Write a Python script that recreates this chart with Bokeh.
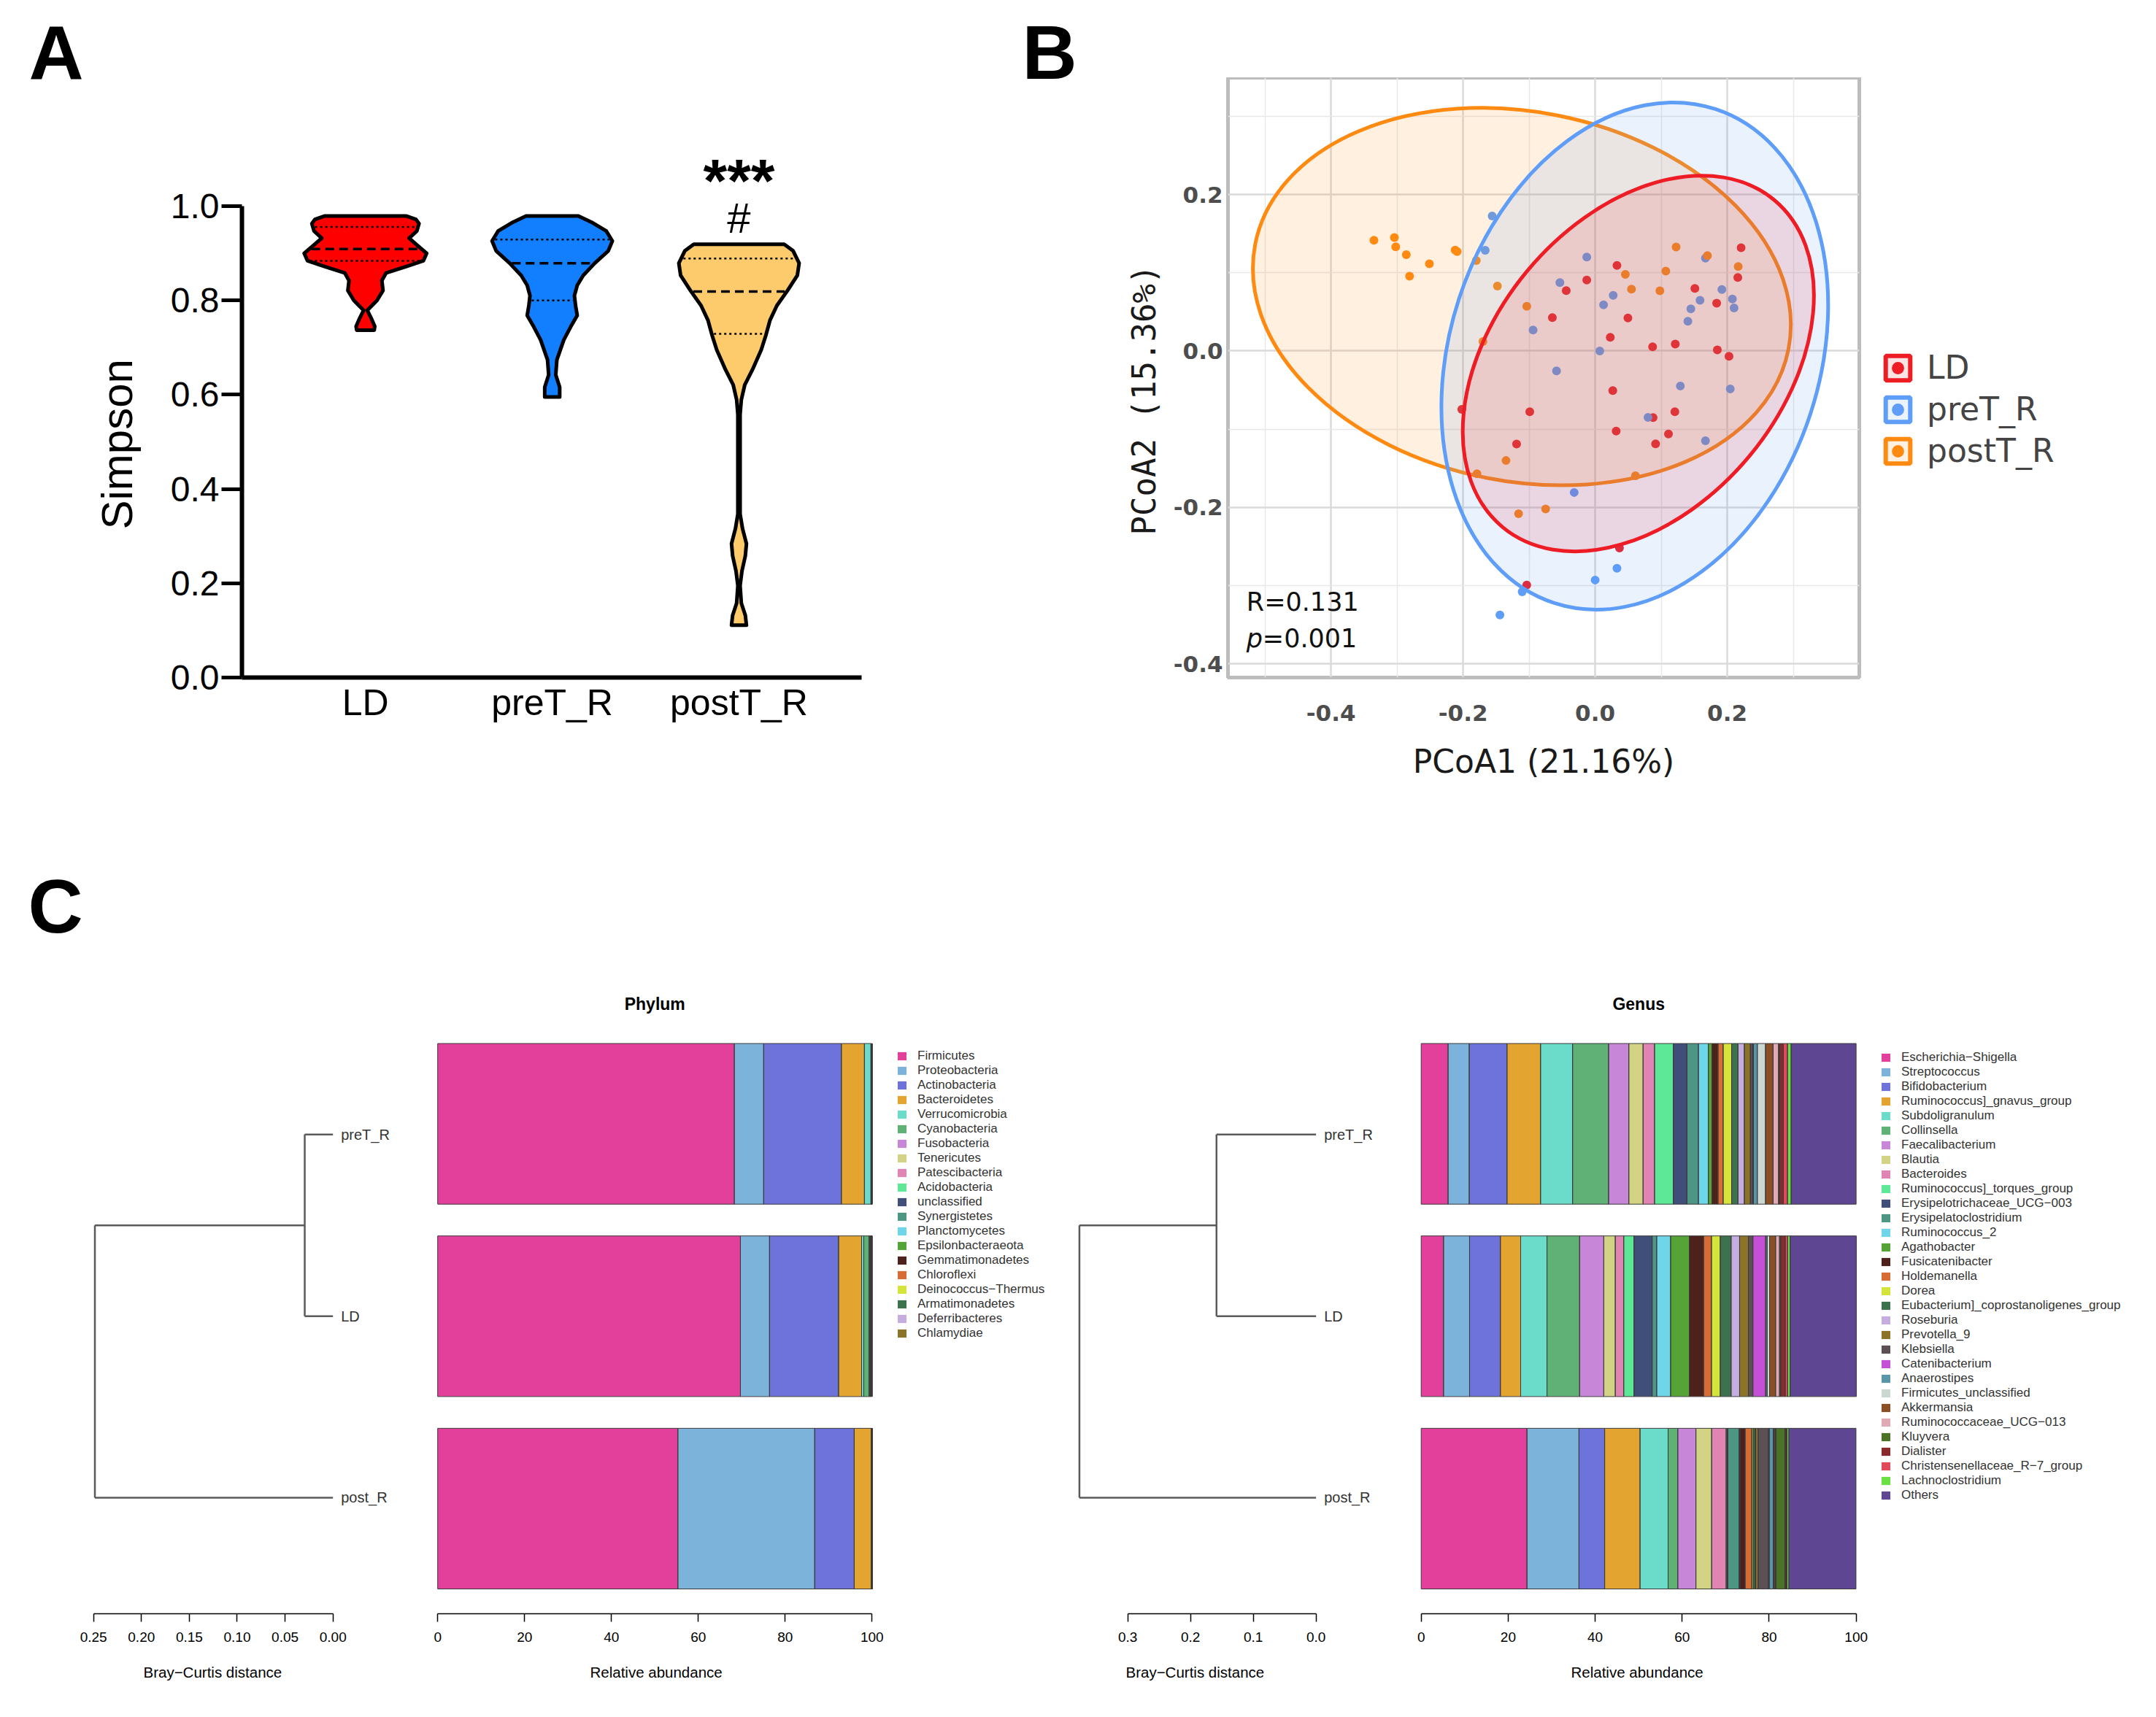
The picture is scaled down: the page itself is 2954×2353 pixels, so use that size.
import numpy as np
from bokeh.plotting import figure
from bokeh.layouts import row, column
from bokeh.models import (Range1d, FixedTicker, NumeralTickFormatter, Legend, LegendItem,
                          ColumnDataSource, Title)
from bokeh.core.properties import value
from bokeh.embed import file_html
from bokeh.resources import INLINE

# ---------------- Panel A data (Simpson violins) ----------------
groups_A = ["LD", "preT_R", "postT_R"]
colors_A = ["#FF0000", "#117FFF", "#FDCB6C"]
LD_vy = [0.737, 0.745, 0.763, 0.779, 0.800, 0.821, 0.842, 0.858, 0.872, 0.884, 0.900, 0.916, 0.932, 0.947, 0.963, 0.972, 0.979]
LD_hw = [0.047, 0.050, 0.030, 0.010, 0.062, 0.094, 0.088, 0.110, 0.220, 0.310, 0.328, 0.280, 0.234, 0.275, 0.287, 0.270, 0.220]
pre_vy = [0.595, 0.616, 0.642, 0.674, 0.716, 0.747, 0.768, 0.789, 0.810, 0.832, 0.853, 0.879, 0.905, 0.926, 0.947, 0.966, 0.979]
pre_hw = [0.040, 0.040, 0.019, 0.025, 0.062, 0.103, 0.134, 0.125, 0.119, 0.134, 0.166, 0.228, 0.300, 0.322, 0.290, 0.210, 0.140]
post_vy = [0.111, 0.132, 0.158, 0.195, 0.226, 0.258, 0.284, 0.316, 0.347, 0.558, 0.589, 0.621, 0.653, 0.695, 0.726, 0.758, 0.789, 0.821, 0.853, 0.879, 0.905, 0.919]
post_hw = [0.040, 0.034, 0.0125, 0.006, 0.016, 0.034, 0.040, 0.019, 0.006, 0.006, 0.0125, 0.031, 0.072, 0.119, 0.144, 0.166, 0.203, 0.260, 0.3125, 0.322, 0.290, 0.242]
quartiles_A = [[0.956, 0.909, 0.884], [0.929, 0.879, 0.800], [0.889, 0.819, 0.729]]
sig_text = ["***", "#"]
sig_y = [1.0526, 0.975]

# ---------------- Panel B data (PCoA) ----------------
LD_px = [0.033, -0.0127, -0.0438, -0.0648, 0.0496, 0.0229, 0.087, 0.1213, 0.151, 0.184, 0.216, 0.221, 0.185, 0.2027,
         0.0267, -0.099, -0.202, 0.0877, 0.1207, 0.0318, 0.111, 0.0915, -0.119, 0.0368, -0.1036]
LD_py = [0.1094, 0.0906, 0.0772, 0.0426, 0.0422, 0.0175, 0.0054, 0.0088, 0.080, 0.061, 0.094, 0.132, 0.0013, -0.0067,
         -0.0505, -0.0777, -0.0747, -0.085, -0.0777, -0.1023, -0.106, -0.1186, -0.119, -0.2518, -0.299]
pre_px = [-0.156, -0.1665, -0.0127, -0.0534, 0.0273, 0.0127, -0.094, 0.007, -0.0585, 0.1449, 0.1588, 0.1404, 0.167,
          0.1919, 0.2078, 0.2103, 0.129, 0.2046, 0.080, 0.167, -0.0318, 0.033, 0.0, -0.1105, -0.1442]
pre_py = [0.1724, 0.1286, 0.120, 0.0873, 0.071, 0.0589, 0.0267, 0.0, -0.0255, 0.0539, 0.0647, 0.038, 0.1186,
          0.0785, 0.0664, 0.0551, -0.0447, -0.0484, -0.0848, -0.1148, -0.1808, -0.2777, -0.2927, -0.3077, -0.3374]
post_px = [-0.335, -0.304, -0.302, -0.286, -0.281, -0.251, -0.212, -0.209, -0.180, -0.148, -0.1036, -0.170, -0.135,
           -0.179, -0.116, -0.075, 0.0457, 0.055, 0.107, 0.098, 0.1226, 0.170, 0.2166, 0.061]
post_py = [0.1415, 0.145, 0.133, 0.123, 0.0956, 0.1115, 0.129, 0.127, 0.1157, 0.083, 0.057, 0.012, -0.140,
           -0.157, -0.208, -0.202, 0.098, 0.079, 0.102, 0.077, 0.1328, 0.122, 0.108, -0.1595]
groups_B = ["LD", "preT_R", "postT_R"]
colors_B = ["#EE1C25", "#5E9DF8", "#FF8A12"]
ell_x = [0.0654, 0.060, -0.111]
ell_y = [-0.016, -0.0065, 0.0695]
ell_w = [0.644, 0.560, 0.823]
ell_h = [0.3696, 0.664, 0.472]
ell_a = [0.878, -0.315, -0.1955]
stat_R = "R=0.131"
stat_p = "=0.001"

# ---------------- Panel C data ----------------
samples = ["preT_R", "LD", "post_R"]
sample_y = [3, 2, 1]
leaf_y = [2.945, 2.0, 1.057]
merge_phylum = [0.0295, 0.2486]
merge_genus = [0.1586, 0.377]

phyla = ["Firmicutes", "Proteobacteria", "Actinobacteria", "Bacteroidetes", "Verrucomicrobia", "Cyanobacteria",
         "Fusobacteria", "Tenericutes", "Patescibacteria", "Acidobacteria", "unclassified", "Synergistetes",
         "Planctomycetes", "Epsilonbacteraeota", "Gemmatimonadetes", "Chloroflexi", "Deinococcus\u2212Thermus",
         "Armatimonadetes", "Deferribacteres", "Chlamydiae"]
phylum_preT = [68.3, 6.75, 17.9, 5.3, 1.5, 0.06, 0.04, 0.03, 0.02, 0.02, 0.02, 0.01, 0.01, 0.01, 0.01, 0.01, 0.0, 0.0, 0.0, 0.0]
phylum_LD = [69.7, 6.7, 15.9, 5.3, 0.5, 1.2, 0.1, 0.25, 0.1, 0.05, 0.05, 0.03, 0.03, 0.03, 0.02, 0.01, 0.01, 0.01, 0.005, 0.005]
phylum_post = [55.3, 31.5, 9.1, 3.9, 0.08, 0.03, 0.02, 0.02, 0.01, 0.01, 0.01, 0.01, 0.01, 0.0, 0.0, 0.0, 0.0, 0.0, 0.0, 0.0]

genera = ["Escherichia\u2212Shigella", "Streptococcus", "Bifidobacterium", "Ruminococcus]_gnavus_group",
          "Subdoligranulum", "Collinsella", "Faecalibacterium", "Blautia", "Bacteroides",
          "Ruminococcus]_torques_group", "Erysipelotrichaceae_UCG\u2212003", "Erysipelatoclostridium",
          "Ruminococcus_2", "Agathobacter", "Fusicatenibacter", "Holdemanella", "Dorea",
          "Eubacterium]_coprostanoligenes_group", "Roseburia", "Prevotella_9", "Klebsiella", "Catenibacterium",
          "Anaerostipes", "Firmicutes_unclassified", "Akkermansia", "Ruminococcaceae_UCG\u2212013", "Kluyvera",
          "Dialister", "Christensenellaceae_R\u22127_group", "Lachnoclostridium", "Others"]
genus_preT = [6.18, 4.86, 8.69, 7.71, 7.37, 8.27, 4.66, 3.27, 2.64, 4.31, 3.13, 2.64, 2.29, 0.83, 1.39, 1.18, 1.95,
              1.46, 1.46, 1.39, 0.56, 0.14, 0.9, 1.88, 1.74, 1.25, 0.2, 0.9, 0.97, 0.83, 14.94]
genus_LD = [5.14, 5.98, 7.09, 4.66, 6.05, 7.5, 5.56, 2.64, 1.95, 2.36, 4.17, 1.04, 3.2, 4.31, 3.27, 1.81, 2.02,
            2.5, 1.95, 2.02, 1.04, 2.92, 0.35, 0.56, 1.39, 0.9, 0.28, 1.04, 0.56, 0.56, 15.22]
genus_post = [24.32, 11.95, 5.91, 8.13, 6.46, 2.22, 4.17, 3.61, 3.34, 0.2, 0.2, 2.57, 0.14, 0.14, 1.11, 1.53, 0.35,
              0.42, 0.14, 0.56, 2.36, 0.2, 0.9, 0.2, 0.28, 0.14, 2.08, 0.28, 0.2, 0.42, 15.43]

palette = ["#E2409A", "#7BB3DB", "#6E72DB", "#E3A52F", "#6BDCCA", "#5FB176", "#C786D8", "#D2D384", "#E085B3",
           "#5DE898", "#404F7A", "#4E9684", "#6FD6EA", "#56A337", "#4E211D", "#D86C35", "#D4E43B", "#3C724E",
           "#C6ADE0", "#8B7328", "#5C5055", "#C64FD8", "#5996AA", "#CBD8D2", "#8A4F25", "#E0AAB4", "#4A7327",
           "#8B2A2E", "#E04A5A", "#6BE043", "#5E4693"]

panel_letters = ["A", "B"]
SANS = "Liberation Sans"

# =============== top strip with panel letters (overlaps the empty top margin of row 1) ===============
STRIP_H = 140
OVERLAP = 34
fL = figure(width=2938, height=STRIP_H, x_range=Range1d(8, 2946), y_range=Range1d(8 + STRIP_H, 8), title=None,
            output_backend="svg", toolbar_location=None, x_axis_location=None, y_axis_location=None,
            min_border_left=0, min_border_right=0, min_border_top=0, min_border_bottom=0,
            margin=(0, 0, -OVERLAP, 0))
fL.grid.visible = False
fL.outline_line_color = None
fL.background_fill_alpha = 0
fL.border_fill_alpha = 0
fL.text(x=[47, 1408], y=[79, 79], text=panel_letters, text_font=value(SANS), text_font_size="104px",
        text_font_style="bold", text_baseline="middle", text_align="left")

# =============== Panel A ===============
ROW1_H = 1036
BOTTOM1 = 214
pA = figure(width=1372, height=ROW1_H, x_range=Range1d(0.3388, 3.6565), y_range=Range1d(0, 1.2724),
            title=None, output_backend="svg", toolbar_location=None,
            min_border_left=331, min_border_right=192, min_border_top=0, min_border_bottom=BOTTOM1)
pA.grid.visible = False
pA.outline_line_color = None
pA.background_fill_alpha = 0
pA.border_fill_alpha = 0
profiles = [(LD_vy, LD_hw), (pre_vy, pre_hw), (post_vy, post_hw)]
xs, ys = [], []
for i, (vy, hw) in enumerate(profiles):
    c = i + 1
    vy = np.array(vy); hw = np.array(hw)
    xs.append(list(np.concatenate([c + hw, (c - hw)[::-1]])))
    ys.append(list(np.concatenate([vy, vy[::-1]])))
pA.patches(xs, ys, fill_color=colors_A, line_color="black", line_width=5, line_join="round")
for i, (vy, hw) in enumerate(profiles):
    c = i + 1
    q1, med, q3 = quartiles_A[i]
    for q, dash, lw in [(q1, "3 4", 2.5), (q3, "3 4", 2.5), (med, "12 7", 3.5)]:
        w = float(np.interp(q, vy, hw)) - 0.012
        pA.segment(x0=[c - w], y0=[q], x1=[c + w], y1=[q], line_color="black", line_width=lw, line_dash=dash)
pA.text(x=[3], y=[sig_y[0]], text=[sig_text[0]], text_font=value(SANS), text_font_size="84px",
        text_font_style="bold", text_align="center", text_baseline="middle")
pA.text(x=[3], y=[sig_y[1]], text=[sig_text[1]], text_font=value(SANS), text_font_size="58px",
        text_align="center", text_baseline="middle")
ya = pA.yaxis[0]
ya.ticker = FixedTicker(ticks=[0, 0.2, 0.4, 0.6, 0.8, 1.0])
ya.formatter = NumeralTickFormatter(format="0.0")
ya.bounds = (0, 1)
ya.axis_line_width = 6
ya.major_tick_line_width = 5
ya.major_tick_out = 28
ya.major_tick_in = 0
ya.minor_tick_line_color = None
ya.major_label_text_font = SANS
ya.major_label_text_font_size = "48px"
ya.major_label_text_color = "black"
ya.major_label_standoff = 3
xa = pA.xaxis[0]
xa.ticker = FixedTicker(ticks=[1, 2, 3])
xa.major_label_overrides = {1: groups_A[0], 2: groups_A[1], 3: groups_A[2]}
xa.major_tick_line_color = None
xa.minor_tick_line_color = None
xa.axis_line_width = 6
xa.major_label_text_font = SANS
xa.major_label_text_font_size = "50px"
xa.major_label_text_color = "black"
xa.major_label_standoff = 0
pA.add_layout(Title(text="Simpson", align="left", offset=203, vertical_align="bottom", standoff=74,
                    text_font=SANS, text_font_size="60px", text_font_style="normal", text_color="black"), "left")

# =============== Panel B ===============
pB = figure(width=1178, height=ROW1_H, x_range=Range1d(-0.556, 0.40), y_range=Range1d(-0.4173, 0.3492),
            title=None, output_backend="svg", toolbar_location=None,
            min_border_left=310, min_border_right=3, min_border_top=0, min_border_bottom=BOTTOM1)
pB.outline_line_color = "#BDBDBD"
pB.outline_line_width = 5
pB.background_fill_alpha = 0
pB.border_fill_alpha = 0
tkx = FixedTicker(ticks=[-0.4, -0.2, 0.0, 0.2], minor_ticks=[-0.5, -0.3, -0.1, 0.1, 0.3])
tky = FixedTicker(ticks=[-0.4, -0.2, 0.0, 0.2], minor_ticks=[-0.3, -0.1, 0.1, 0.3])
pB.xaxis[0].ticker = tkx
pB.xgrid[0].ticker = tkx
pB.yaxis[0].ticker = tky
pB.ygrid[0].ticker = tky
for g in (pB.xgrid[0], pB.ygrid[0]):
    g.grid_line_color = "#DADADA"
    g.grid_line_width = 2.5
    g.minor_grid_line_color = "#E8E8E8"
    g.minor_grid_line_width = 1.5
for ax in (pB.xaxis[0], pB.yaxis[0]):
    ax.formatter = NumeralTickFormatter(format="0.0")
    ax.axis_line_color = None
    ax.major_tick_line_color = None
    ax.minor_tick_line_color = None
    ax.major_label_text_font = "DejaVu Sans"
    ax.major_label_text_font_style = "bold"
    ax.major_label_text_font_size = "31px"
    ax.major_label_text_color = "#4D4D4D"
pB.xaxis[0].major_label_standoff = 31
pB.yaxis[0].major_label_standoff = 1
pB.xaxis[0].axis_label = "PCoA1 (21.16%)"
pB.xaxis[0].axis_label_text_font = "DejaVu Sans"
pB.xaxis[0].axis_label_text_font_style = "normal"
pB.xaxis[0].axis_label_text_font_size = "44px"
pB.xaxis[0].axis_label_text_color = "#1A1A1A"
pB.xaxis[0].axis_label_standoff = 27
pB.add_layout(Title(text="PCoA2 (15.36%)", align="left", offset=195, vertical_align="bottom", standoff=24,
                    text_font="DejaVu Sans Mono", text_font_size="44px", text_font_style="normal",
                    text_color="#1A1A1A"), "left")

pts = [(LD_px, LD_py), (pre_px, pre_py), (post_px, post_py)]
for (px, py), c in zip(pts, colors_B):
    pB.scatter(px, py, size=12, fill_color=c, line_color=None)
order = [2, 1, 0]
pB.ellipse(x=[ell_x[i] for i in order], y=[ell_y[i] for i in order], width=[ell_w[i] for i in order],
           height=[ell_h[i] for i in order], angle=[ell_a[i] for i in order],
           fill_color=[colors_B[i] for i in order], fill_alpha=0.13,
           line_color=[colors_B[i] for i in order], line_width=5)
pB.text(x=[-0.528], y=[-0.321], text=[stat_R], text_font=value("DejaVu Sans"), text_font_size="35px",
        text_baseline="middle", text_color="#111111")
pB.text(x=[-0.528], y=[-0.3676], text=["p"], text_font=value("DejaVu Sans"), text_font_size="35px",
        text_font_style="italic", text_baseline="middle", text_color="#111111")
pB.text(x=[-0.528], y=[-0.3676], text=[stat_p], x_offset=22, text_font=value("DejaVu Sans"),
        text_font_size="35px", text_baseline="middle", text_color="#111111")

# legend strip for panel B (its glyph renderers sit outside the strip's visible range)
pLeg = figure(width=388, height=ROW1_H, x_range=Range1d(5, 6), y_range=Range1d(5, 6), title=None,
              output_backend="svg", toolbar_location=None, x_axis_location=None, y_axis_location=None,
              min_border_left=0, min_border_right=0, min_border_top=0, min_border_bottom=BOTTOM1)
pLeg.grid.visible = False
pLeg.outline_line_color = None
pLeg.background_fill_alpha = 0
pLeg.border_fill_alpha = 0
itemsB = []
for i, (name, c) in enumerate(zip(groups_B, colors_B)):
    rq = pLeg.rect(x=[ell_x[i]], y=[ell_y[i]], width=[ell_w[i]], height=[ell_h[i]], fill_color=c,
                   fill_alpha=0.12, line_color=c, line_width=6)
    rd = pLeg.scatter(pts[i][0], pts[i][1], marker="circle", fill_color=c, line_color=None)
    itemsB.append(LegendItem(label=name, renderers=[rq, rd]))
legB = Legend(items=itemsB, location=(29, 285), glyph_width=42, glyph_height=42, label_height=51, spacing=6,
              padding=0, margin=0, label_standoff=19, label_text_font="DejaVu Sans", label_text_font_size="44px",
              border_line_color=None, background_fill_alpha=0)
pLeg.add_layout(legB)

# =============== Panel C ===============
ROW2_H = 1190
def row2_fig(width, xr):
    p = figure(width=width, height=ROW2_H, x_range=xr, y_range=Range1d(0.4536, 4.5082), title=None,
               output_backend="svg", toolbar_location=None, y_axis_location=None,
               min_border_left=0, min_border_right=0, min_border_top=0, min_border_bottom=120)
    p.grid.visible = False
    p.outline_line_color = None
    return p


def style_xaxis(p, bounds, ticks, fmt, label, offset):
    ax = p.xaxis[0]
    ax.bounds = bounds
    ax.ticker = FixedTicker(ticks=ticks)
    ax.formatter = NumeralTickFormatter(format=fmt)
    ax.axis_line_width = 1.5
    ax.major_tick_line_width = 1.5
    ax.major_tick_out = 11
    ax.major_tick_in = 0
    ax.minor_tick_line_color = None
    ax.major_label_text_font = SANS
    ax.major_label_text_font_size = "19px"
    ax.major_label_text_color = "black"
    ax.major_label_standoff = 14
    p.add_layout(Title(text=label, align="left", offset=offset, vertical_align="top", standoff=55,
                       text_font=SANS, text_font_size="20.5px", text_font_style="normal", text_color="black"),
                 "below")


def draw_dendro(p, heights):
    y_pre, y_ld, y_post = leaf_y
    mid = (y_pre + y_ld) / 2
    h1, h2 = heights
    p.segment(x0=[0, 0, h1, h1, 0, h2], y0=[y_pre, y_ld, y_ld, mid, y_post, y_post],
              x1=[h1, h1, h1, h2, h2, h2], y1=[y_pre, y_ld, y_pre, mid, y_post, mid],
              line_color="#5A5A5A", line_width=2.5)
    p.text(x=[0, 0, 0], y=leaf_y, text=samples, x_offset=11, text_font=value(SANS), text_font_size="20px",
           text_color="#333333", text_baseline="middle", text_align="left")


def draw_bars(p, names, rows, title, vx, vy, offset):
    data = {"y": sample_y}
    keys = []
    for k in range(len(names)):
        key = "c%d" % k
        keys.append(key)
        data[key] = [r[k] for r in rows]
    src = ColumnDataSource(data)
    fills = p.hbar_stack(keys, y="y", height=0.835, fill_color=palette[:len(names)], line_color=None, source=src)
    p.hbar_stack(keys, y="y", height=0.835, fill_color=None, line_color="#3A3A3A", line_width=1, source=src)
    p.text(x=[50], y=[3.621], text=[title], text_font=value(SANS), text_font_size="23px",
           text_font_style="bold", text_align="center", text_baseline="middle")
    items = [LegendItem(label=name, renderers=[r]) for name, r in zip(names, fills)]
    leg = Legend(items=items, location=(vx, vy), glyph_width=15, glyph_height=14, label_height=20, spacing=0,
                 padding=0, margin=0, label_standoff=14, label_text_font=SANS, label_text_font_size="17px",
                 label_text_color="#333333", border_line_color=None, background_fill_alpha=0)
    p.add_layout(leg)
    style_xaxis(p, (0, 100), [0, 20, 40, 60, 80, 100], "0", "Relative abundance", offset)


fdL = row2_fig(562, Range1d(0.3473, -0.0810))
draw_dendro(fdL, merge_phylum)
style_xaxis(fdL, (0, 0.25), [0, 0.05, 0.10, 0.15, 0.20, 0.25], "0.00", "Bray\u2212Curtis distance", 196)
fdL.text(x=[0.3184], y=[4.129], text=["C"], text_font=value(SANS), text_font_size="104px",
         text_font_style="bold", text_baseline="middle", text_align="left")

fbL = row2_fig(910, Range1d(-6.251, 146.67))
draw_bars(fbL, phyla, [phylum_preT, phylum_LD, phylum_post], "Phylum", 666, 374, 246)

fdR = row2_fig(465, Range1d(0.3845, -0.1562))
draw_dendro(fdR, merge_genus)
style_xaxis(fdR, (0, 0.3), [0, 0.1, 0.2, 0.3], "0.0", "Bray\u2212Curtis distance", 70)

fbR = row2_fig(1001, Range1d(-1.628, 166.33))
draw_bars(fbR, genera, [genus_preT, genus_LD, genus_post], "Genus", 639, 152, 215)

layout = column(fL, row(pA, pB, pLeg), row(fdL, fbL, fdR, fbR))
open("out.html", "w").write(file_html(layout, INLINE))
